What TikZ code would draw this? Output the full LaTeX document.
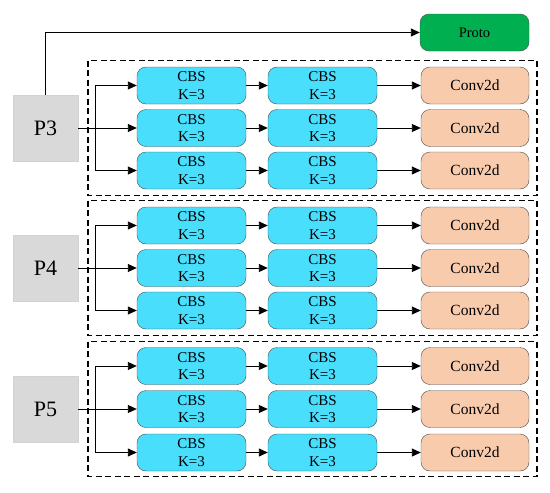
\documentclass[tikz,border=0pt]{standalone}
\usepackage{fontspec}
\setmainfont{Liberation Serif}
\usepackage{xcolor}
\usepackage{tikz}
\usetikzlibrary{arrows.meta,positioning}
\definecolor{cbscyan}{RGB}{72,222,252}
\definecolor{convpeach}{RGB}{248,203,173}
\definecolor{protogreen}{RGB}{0,176,80}
\definecolor{featgray}{RGB}{217,217,217}
\begin{document}
\begin{tikzpicture}[
x=1pt,
y=-1pt,
every node/.style={font=\fontsize{15}{17.5}\selectfont},
rfeat/.style={rectangle,draw=gray!35,fill=featgray,inner sep=0pt,minimum width=65pt,minimum height=66pt,font=\fontsize{22}{24}\selectfont},
rcbs/.style={rectangle,rounded corners=9pt,draw=black!70,fill=cbscyan,align=center,inner sep=0pt,minimum width=109pt,minimum height=37pt},
rconv/.style={rectangle,rounded corners=9pt,draw=black!70,fill=convpeach,align=center,inner sep=0pt,minimum width=108pt,minimum height=37pt,font=\fontsize{15.5}{18}\selectfont},
rproto/.style={rectangle,rounded corners=9pt,draw=black!70,fill=protogreen,align=center,inner sep=0pt,minimum width=109pt,minimum height=37pt,font=\fontsize{14.5}{17}\selectfont},
rgroup/.style={draw,dashed,line width=1.5pt,dash pattern=on 6pt off 3.5pt},
rarrow/.style={-{Triangle[length=9pt,width=8pt]},line width=0.9pt}
]
\useasboundingbox (0,0) rectangle (550,493);

\node[rproto] (proto) at (474.5,32.5) {Proto};

\draw[rgroup] (88,60.5) rectangle (537,195.5);
\draw[rgroup] (88,200.5) rectangle (537,335.5);
\draw[rgroup] (88,341.5) rectangle (537,476.5);

\node[rfeat] (p3) at (45.5,128) {P3};
\node[rfeat] (p4) at (45.5,268) {P4};
\node[rfeat] (p5) at (45.5,409) {P5};
\coordinate (j3) at (95,128);
\coordinate (j4) at (95,268);
\coordinate (j5) at (95,409);

\node[rcbs] (a3u) at (191.5,85.5) {CBS\\K=3};
\node[rcbs] (b3u) at (322.5,85.5) {CBS\\K=3};
\node[rconv] (v3u) at (475,85.5) {Conv2d};
\node[rcbs] (a3m) at (191.5,128) {CBS\\K=3};
\node[rcbs] (b3m) at (322.5,128) {CBS\\K=3};
\node[rconv] (v3m) at (475,128) {Conv2d};
\node[rcbs] (a3d) at (191.5,170.5) {CBS\\K=3};
\node[rcbs] (b3d) at (322.5,170.5) {CBS\\K=3};
\node[rconv] (v3d) at (475,170.5) {Conv2d};

\node[rcbs] (a4u) at (191.5,225.5) {CBS\\K=3};
\node[rcbs] (b4u) at (322.5,225.5) {CBS\\K=3};
\node[rconv] (v4u) at (475,225.5) {Conv2d};
\node[rcbs] (a4m) at (191.5,268) {CBS\\K=3};
\node[rcbs] (b4m) at (322.5,268) {CBS\\K=3};
\node[rconv] (v4m) at (475,268) {Conv2d};
\node[rcbs] (a4d) at (191.5,310.5) {CBS\\K=3};
\node[rcbs] (b4d) at (322.5,310.5) {CBS\\K=3};
\node[rconv] (v4d) at (475,310.5) {Conv2d};

\node[rcbs] (a5u) at (191.5,366) {CBS\\K=3};
\node[rcbs] (b5u) at (322.5,366) {CBS\\K=3};
\node[rconv] (v5u) at (475,366) {Conv2d};
\node[rcbs] (a5m) at (191.5,409) {CBS\\K=3};
\node[rcbs] (b5m) at (322.5,409) {CBS\\K=3};
\node[rconv] (v5m) at (475,409) {Conv2d};
\node[rcbs] (a5d) at (191.5,452.5) {CBS\\K=3};
\node[rcbs] (b5d) at (322.5,452.5) {CBS\\K=3};
\node[rconv] (v5d) at (475,452.5) {Conv2d};

\draw[rarrow] (p3.north) |- (proto.west);

\draw[rarrow] (p3.east) -- (a3m.west);
\draw[rarrow] (j3) |- (a3u.west);
\draw[rarrow] (j3) |- (a3d.west);
\draw[rarrow] (a3u) -- (b3u);
\draw[rarrow] (a3m) -- (b3m);
\draw[rarrow] (a3d) -- (b3d);
\draw[rarrow] (b3u) -- (v3u);
\draw[rarrow] (b3m) -- (v3m);
\draw[rarrow] (b3d) -- (v3d);

\draw[rarrow] (p4.east) -- (a4m.west);
\draw[rarrow] (j4) |- (a4u.west);
\draw[rarrow] (j4) |- (a4d.west);
\draw[rarrow] (a4u) -- (b4u);
\draw[rarrow] (a4m) -- (b4m);
\draw[rarrow] (a4d) -- (b4d);
\draw[rarrow] (b4u) -- (v4u);
\draw[rarrow] (b4m) -- (v4m);
\draw[rarrow] (b4d) -- (v4d);

\draw[rarrow] (p5.east) -- (a5m.west);
\draw[rarrow] (j5) |- (a5u.west);
\draw[rarrow] (j5) |- (a5d.west);
\draw[rarrow] (a5u) -- (b5u);
\draw[rarrow] (a5m) -- (b5m);
\draw[rarrow] (a5d) -- (b5d);
\draw[rarrow] (b5u) -- (v5u);
\draw[rarrow] (b5m) -- (v5m);
\draw[rarrow] (b5d) -- (v5d);
\end{tikzpicture}
\end{document}
